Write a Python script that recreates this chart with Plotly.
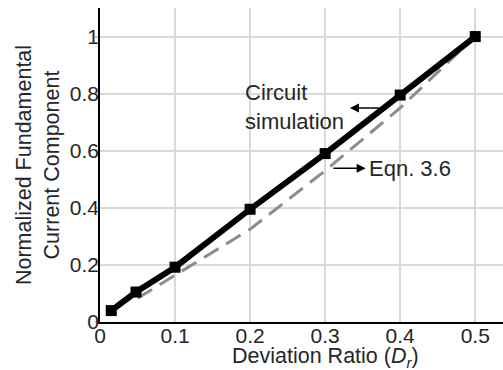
import plotly.graph_objects as go

sim_x = [0.015, 0.048, 0.1, 0.2, 0.3, 0.4, 0.5]
sim_y = [0.04, 0.105, 0.192, 0.395, 0.59, 0.795, 1.0]
eqn_x = [0.05, 0.1, 0.2, 0.3, 0.4, 0.5]
eqn_y = [0.083, 0.163, 0.325, 0.53, 0.75, 1.0]
x_ticks = [0, 0.1, 0.2, 0.3, 0.4, 0.5]
x_labels = ["0", "0.1", "0.2", "0.3", "0.4", "0.5"]
y_ticks = [0, 0.2, 0.4, 0.6, 0.8, 1.0]
y_labels = ["0", "0.2", "0.4", "0.6", "0.8", "1"]

FONT = "Liberation Sans, Arial, sans-serif"
TXT = "#262626"

fig = go.Figure()
fig.add_trace(go.Scatter(x=eqn_x, y=eqn_y, mode="lines",
                         line=dict(color="#8c8c8c", width=3, dash="17px,9px"),
                         showlegend=False))
fig.add_trace(go.Scatter(x=sim_x, y=sim_y, mode="lines+markers",
                         line=dict(color="black", width=6),
                         marker=dict(symbol="square", size=11, color="black"),
                         showlegend=False))

fig.update_layout(
    width=503, height=370,
    margin=dict(l=100, r=0, t=8, b=48),
    paper_bgcolor="white", plot_bgcolor="white",
    font=dict(family=FONT, size=22, color=TXT),
    xaxis=dict(range=[0, 0.537], tickvals=x_ticks, ticktext=x_labels,
               showgrid=True, gridcolor="#d9d9d9", gridwidth=1.5,
               showline=True, linecolor="black", linewidth=1.5,
               zeroline=False, ticks="", tickfont=dict(size=21, color=TXT),
               ticklabelstandoff=-6),
    yaxis=dict(range=[0, 1.1], tickvals=y_ticks, ticktext=y_labels,
               showgrid=True, gridcolor="#d9d9d9", gridwidth=1.5,
               showline=True, linecolor="black", linewidth=1.5,
               zeroline=False, ticks="outside", ticklen=3, tickwidth=1.5,
               tickcolor="#c8c8c8", tickfont=dict(size=21, color=TXT),
               ticklabelstandoff=-8,
               title=dict(text="Normalized Fundamental<br>Current Component",
                          font=dict(size=21.5, color=TXT), standoff=4)),
    annotations=[
        dict(x=0.3, y=-0.112, xref="x", yref="paper", yanchor="middle",
             text="Deviation Ratio (<i>D<sub>r</sub></i>)", showarrow=False,
             font=dict(size=21.5, color=TXT)),
        dict(x=0.191, y=0.753, xref="x", yref="y", xanchor="left",
             yanchor="middle", align="left",
             text="Circuit<br>simulation", showarrow=False,
             font=dict(size=22, color=TXT)),
        dict(x=0.333, y=0.75, ax=0.374, ay=0.75, xref="x", yref="y",
             axref="x", ayref="y", text="", showarrow=True, arrowhead=2,
             arrowsize=1.2, arrowwidth=1.5, arrowcolor="black"),
        dict(x=0.354, y=0.539, ax=0.309, ay=0.539, xref="x", yref="y",
             axref="x", ayref="y", text="", showarrow=True, arrowhead=2,
             arrowsize=1.2, arrowwidth=1.5, arrowcolor="black"),
        dict(x=0.356, y=0.539, xref="x", yref="y", xanchor="left",
             yanchor="middle",
             text="Eqn. 3.6", showarrow=False, font=dict(size=22, color=TXT)),
    ],
)

fig.write_html("out.html")
